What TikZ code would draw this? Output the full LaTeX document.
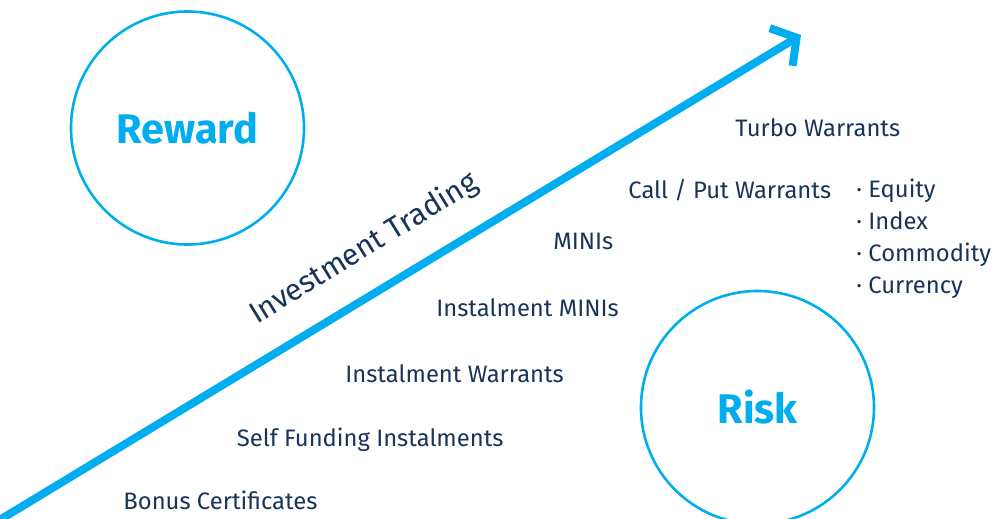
\documentclass[tikz,border=0pt]{standalone}
\usepackage{fontspec}
\setmainfont{Fira Sans}
\usetikzlibrary{arrows.meta}

\definecolor{skyblue}{RGB}{0,174,239}
\definecolor{navy}{RGB}{24,52,88}

\tikzset{
  product/.style={anchor=base west, inner sep=0pt, text=navy, font=\fontsize{11.9}{14}\selectfont},
  bubble/.style={circle, draw=skyblue, line width=1.3pt, minimum size=116.5pt, inner sep=0pt,
    text=skyblue, font=\fontsize{20.7}{24}\selectfont\bfseries},
  trend/.style={draw=skyblue, line width=4pt,
    -{Straight Barb[length=9pt, width=22pt, line join=miter, line cap=butt]}}
}

\begin{document}
\begin{tikzpicture}[x=0.5pt, y=-0.5pt]
  \useasboundingbox (0,0) rectangle (993,519);
  \clip (0,0) rectangle (993,519);

  % the two bubbles
  \node[bubble] (reward) at (187.5,128) {Reward};
  \node[bubble] (risk) at (757.5,407.5) {Risk};

  % the trend line
  \coordinate (low) at (-12,527);
  \coordinate (high) at (801,35);
  \draw[trend] (low) -- (high);
  \node[rotate=31.6, text=navy, font=\fontsize{15}{18}\selectfont] (trading) at (364,249) {Investment Trading};

  % products, from low to high
  \node[product] (bonus) at (123,509.5) {Bonus Certificates};
  \node[product] (selffund) at (236.5,447) {Self Funding Instalments};
  \node[product] (instwarr) at (345,383) {Instalment Warrants};
  \node[product] (instmini) at (436,317) {Instalment MINIs};
  \node[product] (minis) at (553,250) {MINIs};
  \node[product] (callput) at (628,198.5) {Call / Put Warrants};
  \node[product] (turbo) at (735,137) {Turbo Warrants};

  % underlyings
  \foreach \name/\txt [count=\i from 0] in {equity/Equity, index/Index, commodity/Commodity, currency/Currency}
    \node[product] (\name) at (856,198+32*\i) {·\ \txt};
\end{tikzpicture}
\end{document}
